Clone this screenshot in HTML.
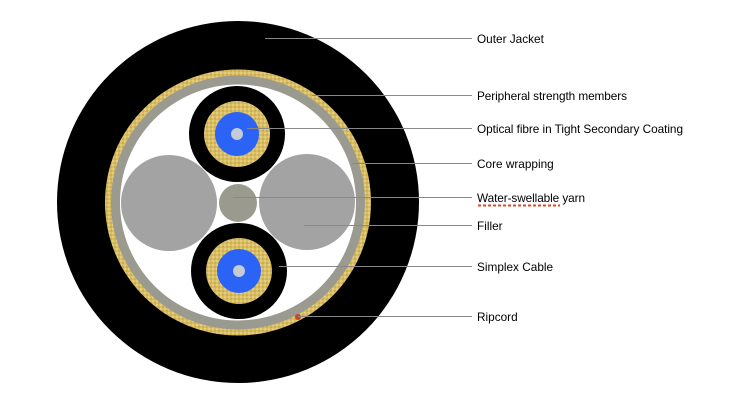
<!DOCTYPE html>
<html><head><style>html,body{margin:0;padding:0;background:#fff}svg{display:block}</style></head>
<body>
<svg width="738" height="418" viewBox="0 0 738 418" xmlns="http://www.w3.org/2000/svg" font-family="Liberation Sans, sans-serif" font-size="11.8">
<defs>
<pattern id="g" width="4" height="4" patternUnits="userSpaceOnUse">
<rect width="4" height="4" fill="#d9bd62"/><circle cx="1" cy="1" r="0.8" fill="#efe0a0"/><circle cx="3" cy="3" r="0.7" fill="#b89a40"/>
</pattern>
</defs>
<circle cx="238" cy="202" r="181" fill="#000"/>
<circle cx="238" cy="202.5" r="133" fill="url(#g)"/>
<circle cx="238" cy="202.5" r="127" fill="#9a9a90"/>
<circle cx="238" cy="202.5" r="118" fill="#fff"/>
<circle cx="169" cy="203" r="48" fill="#a3a3a3"/>
<circle cx="307" cy="202" r="48" fill="#a3a3a3"/>
<circle cx="238" cy="203" r="19" fill="#9a9a8f"/>
<g>
<circle cx="237" cy="134" r="48" fill="#000"/>
<circle cx="237" cy="134" r="33" fill="url(#g)"/>
<circle cx="237" cy="134" r="22" fill="#2a63f5"/>
<circle cx="237" cy="134" r="6" fill="#c5ccd8"/>
</g>
<g>
<circle cx="239" cy="271" r="48" fill="#000"/>
<circle cx="239" cy="271" r="33" fill="url(#g)"/>
<circle cx="239" cy="271" r="22" fill="#2a63f5"/>
<circle cx="239" cy="271" r="6" fill="#c5ccd8"/>
</g>
<circle cx="298" cy="317" r="3" fill="#d0402a"/>
<g stroke="#888" stroke-width="1">
<line x1="265" y1="38.5" x2="472" y2="38.5"/>
<line x1="312" y1="95.5" x2="472" y2="95.5"/>
<line x1="247" y1="128.5" x2="472" y2="128.5"/>
<line x1="352" y1="163.5" x2="472" y2="163.5"/>
<line x1="233" y1="197.5" x2="472" y2="197.5"/>
<line x1="304" y1="225.5" x2="472" y2="225.5"/>
<line x1="279" y1="266.5" x2="472" y2="266.5"/>
<line x1="298" y1="316.5" x2="472" y2="316.5"/>
</g>
<g fill="#000">
<text x="477" y="43">Outer Jacket</text>
<text x="477" y="100" textLength="150">Peripheral strength members</text>
<text x="477" y="133" textLength="206">Optical fibre in Tight Secondary Coating</text>
<text x="477" y="168">Core wrapping</text>
<text x="477" y="202" textLength="108">Water-swellable yarn</text>
<text x="477" y="230">Filler</text>
<text x="477" y="271">Simplex Cable</text>
<text x="477" y="321">Ripcord</text>
</g>
<line x1="478" y1="205.5" x2="560" y2="205.5" stroke="#e0442a" stroke-width="2" stroke-dasharray="3,2"/>
</svg>
</body></html>
